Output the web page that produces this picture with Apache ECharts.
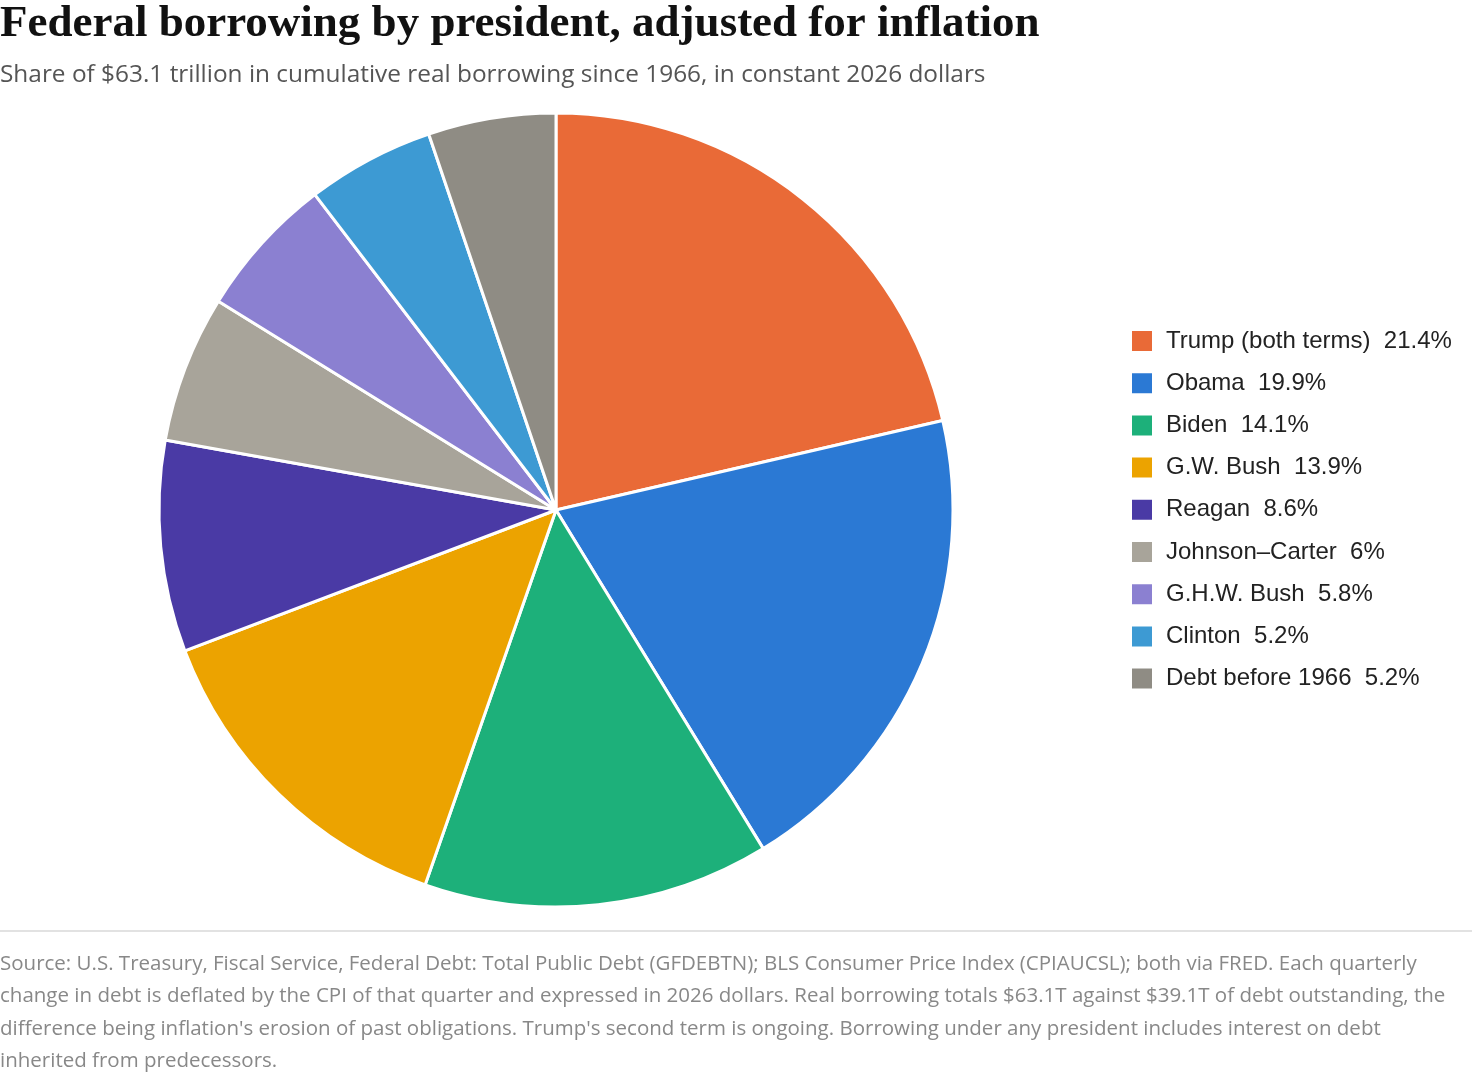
<!DOCTYPE html>
<html>
<head>
<meta charset="utf-8">
<script src="https://cdn.jsdelivr.net/npm/echarts@6/dist/echarts.min.js"></script>
<style>
  html, body { margin: 0; padding: 0; background: #fff; }
  #chart { width: 1472px; height: 1076px; }
</style>
</head>
<body>
<div id="chart"></div>
<script>
// shares of cumulative real borrowing, percent
var presidents = ['Trump (both terms)', 'Obama', 'Biden', 'G.W. Bush', 'Reagan', 'Johnson\u2013Carter', 'G.H.W. Bush', 'Clinton', 'Debt before 1966'];
var shares = [21.4, 19.9, 14.1, 13.9, 8.6, 6, 5.8, 5.2, 5.2];
var colors = ['#e96a37', '#2b79d4', '#1db07a', '#eca300', '#4a3aa5', '#a8a49a', '#8b80d1', '#3d9ad3', '#8f8c84'];

var sourceLines = [
  'Source: U.S. Treasury, Fiscal Service, Federal Debt: Total Public Debt (GFDEBTN); BLS Consumer Price Index (CPIAUCSL); both via FRED. Each quarterly',
  'change in debt is deflated by the CPI of that quarter and expressed in 2026 dollars. Real borrowing totals $63.1T against $39.1T of debt outstanding, the',
  'difference being inflation\'s erosion of past obligations. Trump\'s second term is ongoing. Borrowing under any president includes interest on debt',
  'inherited from predecessors.'
];

var pieData = presidents.map(function (name, i) {
  return { name: name, value: shares[i], itemStyle: { color: colors[i] } };
});

var myChart = echarts.init(document.getElementById('chart'));
myChart.setOption({
  animation: false,
  title: {
    text: 'Federal borrowing by president, adjusted for inflation',
    subtext: 'Share of $63.1 trillion in cumulative real borrowing since 1966, in constant 2026 dollars',
    left: 0,
    top: 2,
    padding: 0,
    itemGap: 16,
    textStyle: { fontFamily: 'Liberation Serif', fontWeight: 'bold', fontSize: 45, color: '#111' },
    subtextStyle: { fontFamily: 'Open Sans', fontSize: 24.4, color: '#555' }
  },
  legend: {
    orient: 'vertical',
    left: 1130,
    top: 329,
    padding: 0,
    itemWidth: 22,
    itemHeight: 22,
    itemGap: 18.2,
    icon: 'rect',
    data: presidents,
    formatter: function (name) {
      var i = presidents.indexOf(name);
      return name + '  ' + shares[i] + '%';
    },
    textStyle: { fontFamily: 'Liberation Sans', fontSize: 24, lineHeight: 22, color: '#222', padding: [0, 0, 0, 8] }
  },
  series: [{
    type: 'pie',
    center: [556, 510],
    radius: [0, 397],
    startAngle: 90,
    clockwise: true,
    label: { show: false },
    labelLine: { show: false },
    itemStyle: { borderColor: '#fff', borderWidth: 3 },
    emphasis: { disabled: true },
    data: pieData
  }],
  graphic: [
    {
      type: 'rect',
      shape: { x: 0, y: 930, width: 1472, height: 2 },
      style: { fill: '#e2e2e2' }
    },
    {
      type: 'text',
      left: 0,
      top: 948,
      style: {
        text: sourceLines.join('\n'),
        fontFamily: 'Open Sans',
        fontSize: 20.5,
        lineHeight: 32.3,
        fill: '#888'
      }
    }
  ]
});
</script>
</body>
</html>
